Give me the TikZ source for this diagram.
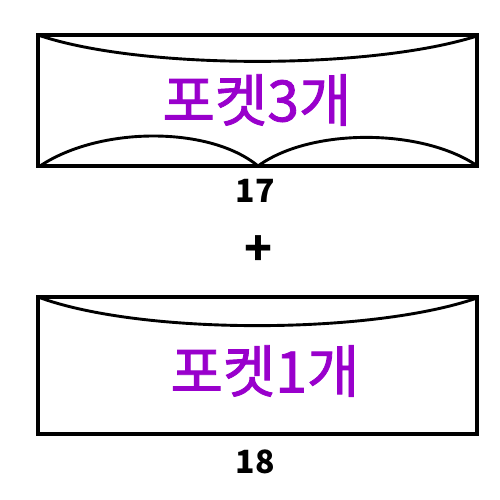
\documentclass[tikz,border=0pt]{standalone}
\usepackage{fontspec}
\newfontfamily\kr{Noto Sans CJK KR}
\newfontfamily\krm[FakeBold=1.5]{Noto Sans CJK KR}
\definecolor{pocket}{RGB}{153,0,204}
\begin{document}
\begin{tikzpicture}[x=1pt,y=-1pt,
  frame/.style={draw=black,line width=3.6pt},
  fold/.style={draw=black,line width=2.9pt},
  label/.style={text=pocket,font=\krm\fontsize{57}{57}\selectfont,inner sep=0pt},
  num/.style={text=black,font=\kr\bfseries\fontsize{32}{32}\selectfont,inner sep=0pt}]
\useasboundingbox[fill=white] (0,0) rectangle (500,500);
% top pocket
\draw[frame] (38,35) rectangle (477,166);
\draw[fold] (38,35) .. controls (140,70) and (370,70) .. (477,36);
\draw[fold] (40,166) .. controls (100,126) and (210,126) .. (258,166);
\draw[fold] (258,166) .. controls (310,128) and (420,128) .. (476,165);
\node[label] (t1) at (257,100) {포켓3개};
\node[num] (n1) at (255,191) {17};
\node[num,font=\kr\bfseries\fontsize{46}{46}\selectfont] (plus) at (259,251) {+};
% bottom pocket
\draw[frame] (38,297) rectangle (477,434);
\draw[fold] (38,297) .. controls (140,335) and (370,335) .. (477,298);
\node[label] (t2) at (265,371) {포켓1개};
\node[num] (n2) at (255,462) {18};
\end{tikzpicture}
\end{document}
